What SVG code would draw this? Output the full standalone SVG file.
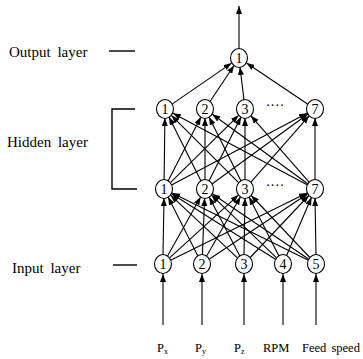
<svg xmlns="http://www.w3.org/2000/svg" width="363" height="359" viewBox="0 0 363 359">
<defs>
<marker id="ah" markerUnits="userSpaceOnUse" markerWidth="9" markerHeight="7" refX="8" refY="3" orient="auto">
<path d="M0,0 L8,3 L0,6 z" fill="#000"/>
</marker>
<style>
.lbl{font-family:"Liberation Serif","Times New Roman",serif;font-size:15px;fill:#000;word-spacing:3px}
.in{font-family:"Liberation Serif","Times New Roman",serif;font-size:12.5px;fill:#000;word-spacing:2px}
.num{font-family:"Liberation Serif","Times New Roman",serif;font-size:14px;fill:#000;text-anchor:middle}
.nd{fill:#fff;stroke:#000;stroke-width:1.1}
.c line{stroke:#000;stroke-width:1.1;marker-end:url(#ah)}
.ax{stroke:#000;stroke-width:1.4;fill:none}
</style>
</defs>
<rect width="363" height="359" fill="#fff"/>
<g id="labels">
<text class="lbl" x="9" y="57">Output layer</text>
<line class="ax" x1="109" y1="51" x2="135" y2="51"/>
<text class="lbl" x="7" y="147">Hidden layer</text>
<path class="ax" d="M135,109 H112 V189 H137"/>
<text class="lbl" x="12" y="273">Input layer</text>
<line class="ax" x1="113" y1="265" x2="137" y2="265"/>
<text class="num" x="275" y="110">····</text>
<text class="num" x="275" y="190">····</text>
<text class="in" x="157" y="352">P<tspan font-size="8" dy="2">x</tspan></text>
<text class="in" x="195" y="352">P<tspan font-size="8" dy="2">y</tspan></text>
<text class="in" x="234" y="352">P<tspan font-size="8" dy="2">z</tspan></text>
<text class="in" x="263" y="352">RPM</text>
<text class="in" x="302" y="352">Feed speed</text>
</g>
<g id="connectors" class="c">
<line x1="239" y1="49" x2="239" y2="6"/>
<line x1="163" y1="325" x2="163" y2="274"/>
<line x1="202" y1="325" x2="202" y2="274"/>
<line x1="244" y1="325" x2="244" y2="274"/>
<line x1="283" y1="325" x2="283" y2="274"/>
<line x1="316" y1="325" x2="316" y2="274"/>
<line x1="172.4" y1="103.9" x2="231.6" y2="63.1"/>
<line x1="210" y1="101.5" x2="234" y2="65.5"/>
<line x1="244" y1="100.1" x2="240" y2="66.9"/>
<line x1="307.5" y1="104" x2="246.5" y2="63"/>
<line x1="164.1" y1="180" x2="164.9" y2="118"/>
<line x1="168.1" y1="181" x2="200.9" y2="117"/>
<line x1="170.4" y1="182.7" x2="238.6" y2="115.3"/>
<line x1="172" y1="184.8" x2="307" y2="113.2"/>
<line x1="201" y1="181" x2="169" y2="117"/>
<line x1="205" y1="180" x2="205" y2="118"/>
<line x1="209" y1="181" x2="241" y2="117"/>
<line x1="212.3" y1="183.7" x2="307.7" y2="114.3"/>
<line x1="238.6" y1="182.6" x2="171.4" y2="115.4"/>
<line x1="241" y1="181" x2="209" y2="117"/>
<line x1="245" y1="180" x2="245" y2="118"/>
<line x1="250.9" y1="182.2" x2="309.1" y2="115.8"/>
<line x1="307.1" y1="184.8" x2="172.9" y2="113.2"/>
<line x1="307.7" y1="183.7" x2="212.3" y2="114.3"/>
<line x1="309.1" y1="182.2" x2="250.9" y2="115.8"/>
<line x1="315" y1="180" x2="315" y2="118"/>
<line x1="163" y1="255" x2="164" y2="198"/>
<line x1="167.4" y1="256.2" x2="200.6" y2="196.9"/>
<line x1="169.6" y1="257.9" x2="238.4" y2="195.1"/>
<line x1="171.1" y1="260" x2="306.9" y2="193"/>
<line x1="197.9" y1="256" x2="168.1" y2="197"/>
<line x1="202.4" y1="255" x2="204.6" y2="198"/>
<line x1="206.5" y1="256.2" x2="240.5" y2="196.8"/>
<line x1="209.5" y1="259" x2="307.5" y2="194"/>
<line x1="237.4" y1="257.8" x2="170.6" y2="195.2"/>
<line x1="239.8" y1="256" x2="209.2" y2="197"/>
<line x1="244" y1="255" x2="245" y2="198"/>
<line x1="250.2" y1="257.5" x2="308.8" y2="195.5"/>
<line x1="275.4" y1="259.2" x2="171.6" y2="193.8"/>
<line x1="276.5" y1="257.8" x2="211.5" y2="195.2"/>
<line x1="278.9" y1="256" x2="249.1" y2="197"/>
<line x1="286.5" y1="255.7" x2="311.5" y2="197.3"/>
<line x1="307.9" y1="260" x2="172.1" y2="193"/>
<line x1="308.5" y1="259" x2="212.5" y2="194"/>
<line x1="309.8" y1="257.5" x2="251.2" y2="195.5"/>
<line x1="316" y1="255" x2="315" y2="198"/>
</g>
<g id="out1"><ellipse class="nd" cx="239" cy="58" rx="8.5" ry="9.5"/><text class="num" x="239" y="63">1</text></g>
<g id="h2_1"><ellipse class="nd" cx="165" cy="109" rx="8.5" ry="9.5"/><text class="num" x="165" y="114">1</text></g>
<g id="h2_2"><ellipse class="nd" cx="205" cy="109" rx="8.5" ry="9.5"/><text class="num" x="205" y="114">2</text></g>
<g id="h2_3"><ellipse class="nd" cx="245" cy="109" rx="8.5" ry="9.5"/><text class="num" x="245" y="114">3</text></g>
<g id="h2_7"><ellipse class="nd" cx="315" cy="109" rx="8.5" ry="9.5"/><text class="num" x="315" y="114">7</text></g>
<g id="h1_1"><ellipse class="nd" cx="164" cy="189" rx="8.5" ry="9.5"/><text class="num" x="164" y="194">1</text></g>
<g id="h1_2"><ellipse class="nd" cx="205" cy="189" rx="8.5" ry="9.5"/><text class="num" x="205" y="194">2</text></g>
<g id="h1_3"><ellipse class="nd" cx="245" cy="189" rx="8.5" ry="9.5"/><text class="num" x="245" y="194">3</text></g>
<g id="h1_7"><ellipse class="nd" cx="315" cy="189" rx="8.5" ry="9.5"/><text class="num" x="315" y="194">7</text></g>
<g id="in1"><ellipse class="nd" cx="163" cy="264" rx="8.5" ry="9.5"/><text class="num" x="163" y="269">1</text></g>
<g id="in2"><ellipse class="nd" cx="202" cy="264" rx="8.5" ry="9.5"/><text class="num" x="202" y="269">2</text></g>
<g id="in3"><ellipse class="nd" cx="244" cy="264" rx="8.5" ry="9.5"/><text class="num" x="244" y="269">3</text></g>
<g id="in4"><ellipse class="nd" cx="283" cy="264" rx="8.5" ry="9.5"/><text class="num" x="283" y="269">4</text></g>
<g id="in5"><ellipse class="nd" cx="316" cy="264" rx="8.5" ry="9.5"/><text class="num" x="316" y="269">5</text></g>
</svg>
